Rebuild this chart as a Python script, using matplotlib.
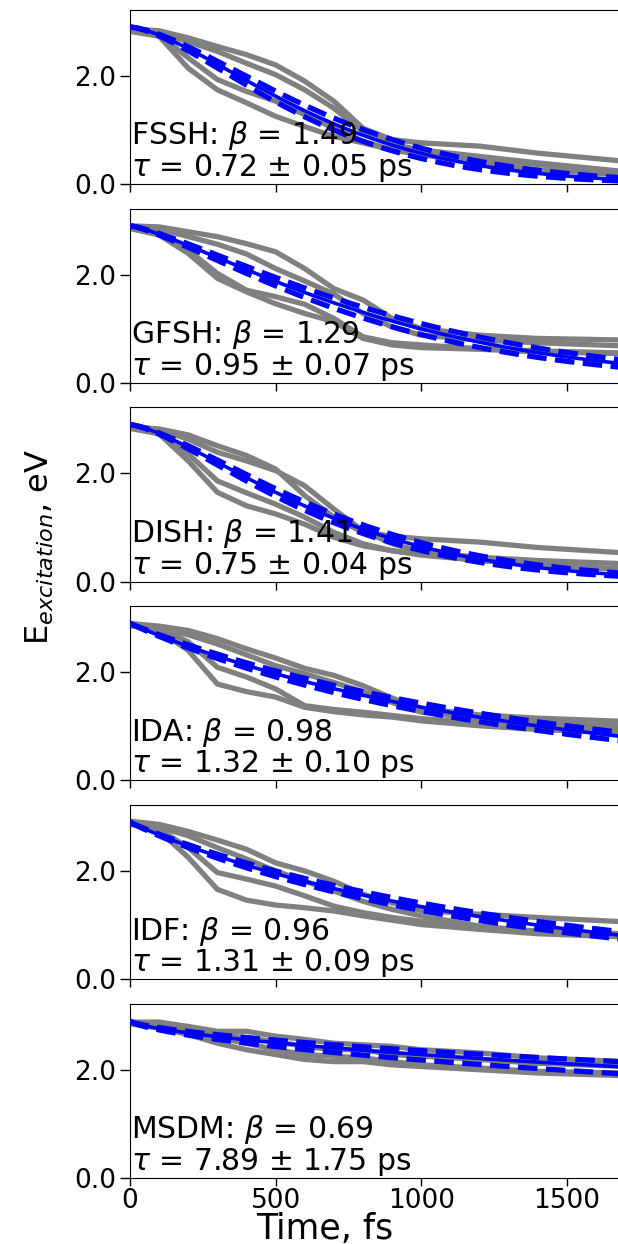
import matplotlib
matplotlib.use("Agg")
import matplotlib.pyplot as plt
import numpy as np

# Tiempos (fs) en los que se leyeron las trayectorias.
time_fs = [0, 100, 200, 300, 400, 500, 600, 700, 800, 900, 1000, 1200, 1400, 1700]

# Trayectorias de energía de excitación (eV), una lista por método.
fssh = [
    [2.87, 2.83, 2.70, 2.54, 2.39, 2.20, 1.90, 1.53, 1.03, 0.82, 0.76, 0.70, 0.57, 0.42],
    [2.85, 2.79, 2.63, 2.45, 2.23, 2.02, 1.74, 1.40, 0.97, 0.73, 0.63, 0.51, 0.39, 0.23],
    [2.82, 2.73, 2.14, 1.74, 1.50, 1.25, 1.06, 0.88, 0.76, 0.63, 0.54, 0.39, 0.26, 0.17],
    [2.84, 2.76, 2.33, 1.93, 1.71, 1.53, 1.28, 1.03, 0.79, 0.63, 0.57, 0.48, 0.36, 0.20],
]
gfsh = [
    [2.90, 2.88, 2.79, 2.70, 2.57, 2.42, 2.11, 1.74, 1.53, 1.19, 1.00, 0.88, 0.82, 0.79],
    [2.88, 2.85, 2.70, 2.56, 2.38, 2.11, 1.88, 1.64, 1.28, 1.03, 0.88, 0.79, 0.74, 0.68],
    [2.86, 2.76, 2.45, 2.02, 1.71, 1.59, 1.45, 1.19, 0.85, 0.74, 0.70, 0.63, 0.59, 0.55],
    [2.85, 2.73, 2.39, 1.93, 1.68, 1.46, 1.28, 1.13, 0.82, 0.70, 0.65, 0.62, 0.57, 0.54],
]
dish = [
    [2.85, 2.82, 2.71, 2.51, 2.33, 2.08, 1.59, 1.19, 0.91, 0.84, 0.79, 0.73, 0.63, 0.53],
    [2.88, 2.81, 2.63, 2.39, 2.23, 2.05, 1.77, 1.34, 0.94, 0.70, 0.55, 0.45, 0.39, 0.33],
    [2.83, 2.73, 2.23, 1.65, 1.40, 1.25, 1.06, 0.82, 0.66, 0.57, 0.51, 0.39, 0.31, 0.23],
    [2.86, 2.76, 2.36, 1.86, 1.64, 1.43, 1.19, 0.91, 0.70, 0.57, 0.49, 0.39, 0.31, 0.22],
]
ida = [
    [2.90, 2.85, 2.77, 2.62, 2.43, 2.26, 2.07, 1.94, 1.75, 1.52, 1.33, 1.21, 1.15, 1.09],
    [2.88, 2.81, 2.69, 2.52, 2.32, 2.12, 1.97, 1.81, 1.64, 1.44, 1.26, 1.14, 1.06, 1.00],
    [2.86, 2.77, 2.40, 1.78, 1.64, 1.54, 1.35, 1.27, 1.21, 1.17, 1.10, 1.01, 0.94, 0.88],
    [2.87, 2.80, 2.56, 2.09, 1.91, 1.69, 1.38, 1.31, 1.26, 1.20, 1.14, 1.06, 1.00, 0.94],
]
idf = [
    [2.92, 2.86, 2.73, 2.57, 2.40, 2.15, 2.00, 1.81, 1.57, 1.41, 1.27, 1.20, 1.14, 1.06],
    [2.90, 2.81, 2.65, 2.43, 2.22, 2.00, 1.81, 1.63, 1.44, 1.29, 1.17, 0.98, 0.88, 0.80],
    [2.88, 2.74, 2.25, 1.66, 1.46, 1.37, 1.32, 1.26, 1.17, 1.09, 1.01, 0.92, 0.84, 0.78],
    [2.86, 2.77, 2.43, 1.97, 1.85, 1.72, 1.54, 1.35, 1.23, 1.14, 1.07, 0.96, 0.89, 0.84],
]
msdm = [
    [2.88, 2.88, 2.80, 2.71, 2.71, 2.62, 2.56, 2.49, 2.46, 2.43, 2.37, 2.31, 2.22, 2.15],
    [2.85, 2.77, 2.65, 2.49, 2.37, 2.28, 2.19, 2.15, 2.15, 2.09, 2.06, 2.00, 1.94, 1.89],
    [2.86, 2.80, 2.71, 2.59, 2.49, 2.37, 2.28, 2.25, 2.22, 2.15, 2.09, 2.03, 1.97, 1.94],
    [2.88, 2.83, 2.75, 2.65, 2.59, 2.52, 2.43, 2.37, 2.37, 2.28, 2.25, 2.19, 2.12, 2.06],
]

# Parámetros del ajuste exponencial estirado de cada método.
methods = ["FSSH", "GFSH", "DISH", "IDA", "IDF", "MSDM"]
trajectories = [fssh, gfsh, dish, ida, idf, msdm]
beta = [1.49, 1.29, 1.41, 0.98, 0.96, 0.69]
tau_ps = [0.72, 0.95, 0.75, 1.32, 1.31, 7.89]
tau_err_ps = [0.05, 0.07, 0.04, 0.10, 0.09, 1.75]
e0 = 2.9

x_ticks = [0, 500, 1000, 1500]
y_ticks = [0.0, 2.0]


def stretched_exp(t, e_start, tau, b):
    """Curva de ajuste: E(t) = E0 * exp(-(t / tau)^beta)."""
    return e_start * np.exp(-(t / tau) ** b)


# Figura de 618x1244 px, seis paneles apilados.
W, H = 618, 1244
fig = plt.figure(figsize=(W / 100, H / 100), dpi=100)

left = 130 / W
width = 582.4 / W  # el eje llega a 2000 fs, fuera del borde derecho
panel_h = 174.3
t_fit = np.linspace(0, 2000, 400)

for i, name in enumerate(methods):
    bottom_px = 184 + 198.8 * i
    ax = fig.add_axes([left, 1 - bottom_px / H, width, panel_h / H])

    # Trayectorias individuales en gris.
    for traj in trajectories[i]:
        ax.plot(time_fs, traj, color="gray", lw=3.8, solid_joinstyle="round",
                solid_capstyle="round", zorder=2)

    # Ajuste y banda de error en azul.
    tau = tau_ps[i] * 1000
    err = tau_err_ps[i] * 1000
    ax.plot(t_fit, stretched_exp(t_fit, e0, tau, beta[i]), color="blue", lw=2.6, zorder=3)
    ax.plot(t_fit, stretched_exp(t_fit, e0, tau - err, beta[i]), color="blue", lw=3.8,
            ls="--", zorder=3)
    ax.plot(t_fit, stretched_exp(t_fit, e0, tau + err, beta[i]), color="blue", lw=3.8,
            ls="--", zorder=3)

    ax.text(0.002, 0.0, f"{name}: $\\beta$ = {beta[i]:.2f}\n"
            f"$\\tau$ = {tau_ps[i]:.2f} ± {tau_err_ps[i]:.2f} ps",
            transform=ax.transAxes, fontsize=21.5, ha="left", va="bottom",
            linespacing=0.98, zorder=5)

    ax.set_xlim(0, 2000)
    ax.set_ylim(0, 3.22)
    ax.set_xticks(x_ticks)
    ax.set_yticks(y_ticks)
    ax.set_yticklabels([f"{v:.1f}" for v in y_ticks])
    ax.tick_params(axis="y", labelsize=19, length=7, width=1, pad=3)
    ax.tick_params(axis="x", labelsize=19, length=6, width=1, pad=1.5)
    if i < len(methods) - 1:
        ax.tick_params(labelbottom=False)

# Etiquetas de los ejes.
fig.text(325 / W, 1 - 1239 / H, "Time, fs", fontsize=25, ha="center", va="baseline")
fig.text(40 / W, 1 - 547 / H, "E$_{excitation}$, eV", fontsize=23, rotation=90,
         ha="center", va="center")

fig.savefig("out.png", dpi=100)
